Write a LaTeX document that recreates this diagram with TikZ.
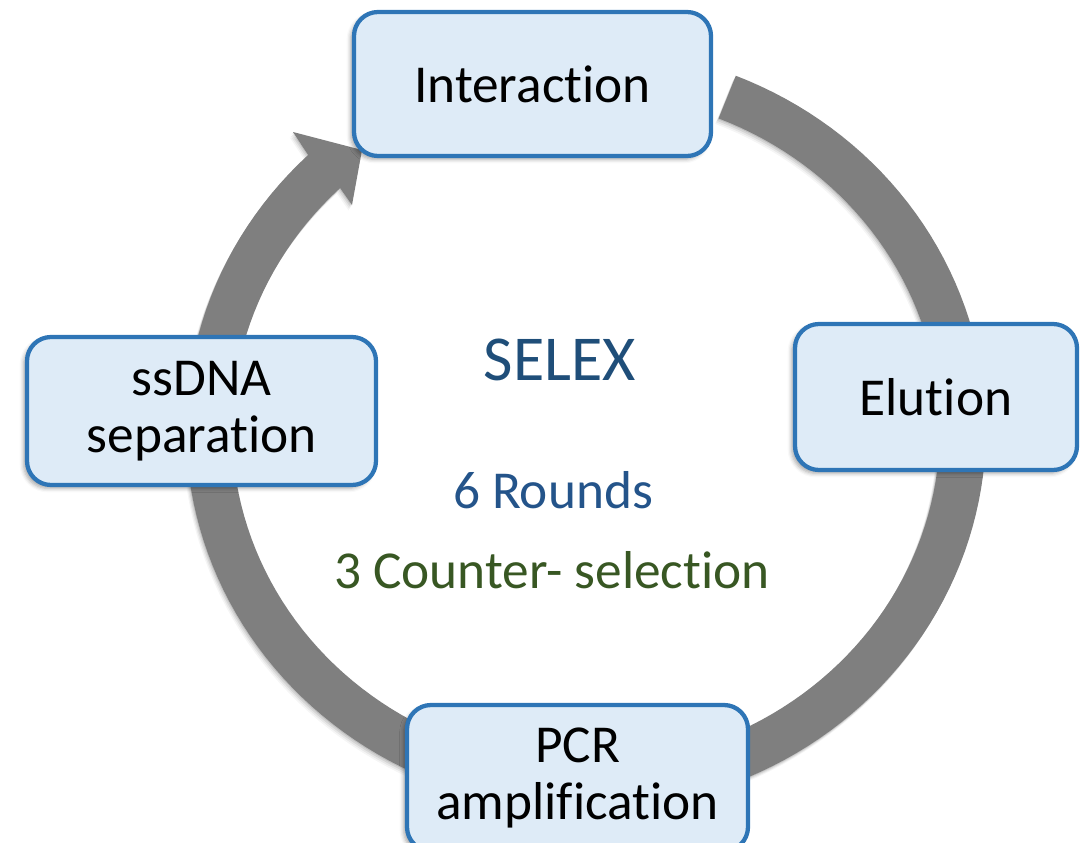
\documentclass[tikz,border=0pt]{standalone}
\usepackage{fontspec}
\setmainfont{Carlito}[RawFeature={-liga;-clig;-dlig;-calt;-hlig}]
\usetikzlibrary{shadows.blur}
\definecolor{boxfill}{HTML}{DEEBF7}
\definecolor{boxline}{HTML}{2E75B6}
\definecolor{ringgray}{HTML}{7F7F7F}
\definecolor{selexblue}{HTML}{1F4E79}
\definecolor{roundblue}{HTML}{24548A}
\definecolor{countergreen}{HTML}{385723}
\newcommand\ringpath{plot[domain=0:294,samples=150,variable=\t] ({586+400*cos(68-\t)},{429-381*sin(68-\t)}) -- (293,132) -- (362,150) -- (352,205) -- plot[domain=0:294,samples=150,variable=\t] ({586+354*cos(-226+\t)},{429-335*sin(-226+\t)}) -- cycle}
\begin{document}
\begin{tikzpicture}[x=0.75pt,y=-0.75pt,
  stepbox/.style={draw=boxline, fill=boxfill, line width=3.2pt, rounded corners=18pt,
    align=center, inner sep=0pt, font=\fontsize{40}{43}\selectfont,
    blur shadow={shadow xshift=-2.5pt, shadow yshift=-2.5pt, shadow blur radius=3pt, shadow opacity=35}},
  midtext/.style={anchor=base, font=\fontsize{40}{48}\selectfont}]
\useasboundingbox (0,0) rectangle (1081,842);
\clip (0,0) rectangle (1081,842);
% ring shadow
\foreach \s/\o in {1/0.10, 2.5/0.08, 4/0.06, 5.5/0.04} {
  \fill[black, opacity=\o, shift={(-0.6*\s,\s)}] \ringpath;
}
% ring arrow
\fill[ringgray] \ringpath;
% boxes
\node[stepbox, minimum width=267.75pt, minimum height=108pt] (inter) at (532.5,84) {Interaction};
\node[stepbox, minimum width=211.5pt, minimum height=109.5pt] (elu) at (936,397) {Elution};
\node[stepbox, minimum width=255.75pt, minimum height=109.5pt] (pcr) at (577.5,778) {PCR\\amplification};
\node[stepbox, minimum width=261.75pt, minimum height=111pt] (ss) at (201.5,411) {ssDNA\\separation};
% centre texts
\node[anchor=base, font=\fontsize{48}{56}\selectfont, text=selexblue] (selex) at (560,380) {SELEX};
\node[midtext, text=roundblue] (rounds) at (553,508) {6 Rounds};
\node[midtext, text=countergreen] (counter) at (552,588) {3 Counter- selection};
\end{tikzpicture}
\end{document}
